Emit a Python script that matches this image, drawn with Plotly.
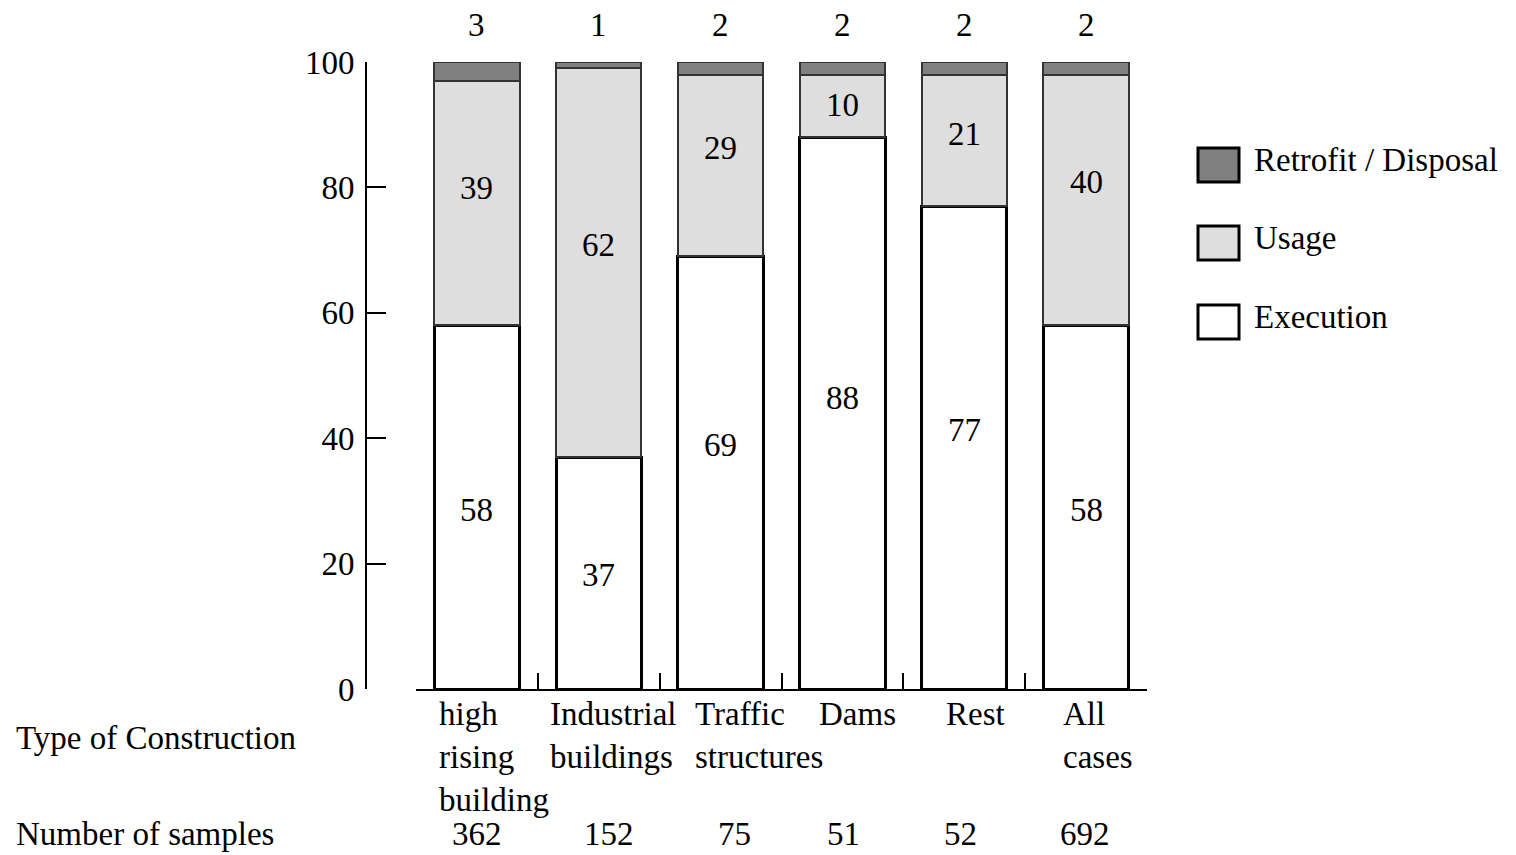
import plotly.graph_objects as go

# ---- data ----
categories = ["high rising building", "Industrial buildings", "Traffic structures",
              "Dams", "Rest", "All cases"]
category_labels = ["high<br>rising<br>building", "Industrial<br>buildings",
                   "Traffic<br>structures", "Dams", "Rest", "All<br>cases"]
execution = [58, 37, 69, 88, 77, 58]
usage = [39, 62, 29, 10, 21, 40]
retrofit = [3, 1, 2, 2, 2, 2]
samples = [362, 152, 75, 51, 52, 692]
y_ticks = [0, 20, 40, 60, 80, 100]

# ---- layout helpers (window pixel -> paper) ----
W, H = 1516, 855
def px(x):
    return x / W
def py(y):
    return 1 - y / H

FONT = "Liberation Serif, Times New Roman, serif"
FS = 33
TXT = dict(size=FS, family=FONT, color="black")

# label nudges (pixels), as placed in the original figure
exec_label_shift = [-3, -2, 28, 15, 18, -3]
usage_label_shift = [15, 18, 17, 1, 6, 18]
label_shift = [-40, -51, -28, -25, -20, -25]
sample_shift = [0, 10, 14, 1, -4, -1]

fig = go.Figure()
fig.add_trace(go.Bar(x=categories, y=execution, name="Execution",
                     marker=dict(color="#ffffff", line=dict(color="black", width=3)),
                     showlegend=False))
fig.add_trace(go.Bar(x=categories, y=usage, name="Usage",
                     marker=dict(color="#dedede", line=dict(color="#333333", width=2)),
                     showlegend=False))
fig.add_trace(go.Bar(x=categories, y=retrofit, name="Retrofit / Disposal",
                     marker=dict(color="#808080", line=dict(color="#333333", width=2)),
                     showlegend=False))

annotations = []
# in-bar values
for c, e, u, se, su in zip(categories, execution, usage, exec_label_shift, usage_label_shift):
    annotations.append(dict(x=c, y=e / 2, xref="x", yref="y", text=str(e), showarrow=False,
                            yshift=se, font=TXT))
    annotations.append(dict(x=c, y=e + u / 2, xref="x", yref="y", text=str(u),
                            showarrow=False, yshift=su, font=TXT))
# retrofit values above bars
for c, r in zip(categories, retrofit):
    annotations.append(dict(x=c, y=100, xref="x", yref="y", text=str(r), showarrow=False,
                            yshift=37, yanchor="middle", font=TXT))
# category labels
for c, lab, s in zip(categories, category_labels, label_shift):
    annotations.append(dict(x=c, y=py(694), xref="x", yref="paper", text=lab,
                            showarrow=False, xanchor="left", yanchor="top", align="left",
                            xshift=s, font=TXT))
# sample counts
for c, n, s in zip(categories, samples, sample_shift):
    annotations.append(dict(x=c, y=py(834), xref="x", yref="paper", text=str(n),
                            showarrow=False, yanchor="middle", xshift=s, font=TXT))
annotations.append(dict(x=px(14), y=py(738), xref="paper", yref="paper",
                        text="Type of Construction", showarrow=False, xanchor="left",
                        yanchor="middle", font=TXT))
annotations.append(dict(x=px(14), y=py(834), xref="paper", yref="paper",
                        text="Number of samples", showarrow=False, xanchor="left",
                        yanchor="middle", font=TXT))

# manual legend
legend_items = [("Retrofit / Disposal", "#808080", 165),
                ("Usage", "#dedede", 243),
                ("Execution", "#ffffff", 322)]
shapes = []
for name, col, yc in legend_items:
    shapes.append(dict(type="rect", xref="paper", yref="paper",
                       x0=px(1198), x1=px(1239), y0=py(yc - 17), y1=py(yc + 17),
                       fillcolor=col, line=dict(color="black", width=3)))
    annotations.append(dict(x=px(1252), y=py(yc - 5), xref="paper", yref="paper",
                            text=name, showarrow=False, xanchor="left", yanchor="middle",
                            font=TXT))

fig.update_layout(
    width=W, height=H,
    barmode="stack", bargap=0.30,
    plot_bgcolor="white", paper_bgcolor="white",
    margin=dict(l=0, r=0, t=0, b=0),
    showlegend=False,
    font=dict(family=FONT, size=FS, color="black"),
    xaxis=dict(domain=[px(416), px(1147)], showticklabels=False, showline=True,
               linecolor="black", linewidth=2, ticks="inside", tickson="boundaries",
               ticklen=16, tickwidth=2, tickcolor="black", showgrid=False,
               range=[-0.5, 5.5], automargin=False),
    yaxis=dict(domain=[py(689), py(62)], range=[0, 100], tickvals=y_ticks,
               anchor="free", position=px(366), showline=True, linecolor="black",
               linewidth=2, ticks="inside", ticklen=19, tickwidth=2, tickcolor="black",
               showgrid=False, zeroline=False, automargin=False, ticklabelstandoff=4,
               tickfont=TXT),
    annotations=annotations,
    shapes=shapes,
)

fig.write_html("out.html", config={"displayModeBar": False},
               post_script="document.body.style.margin='0px';"
                           "document.body.style.overflow='hidden';")
